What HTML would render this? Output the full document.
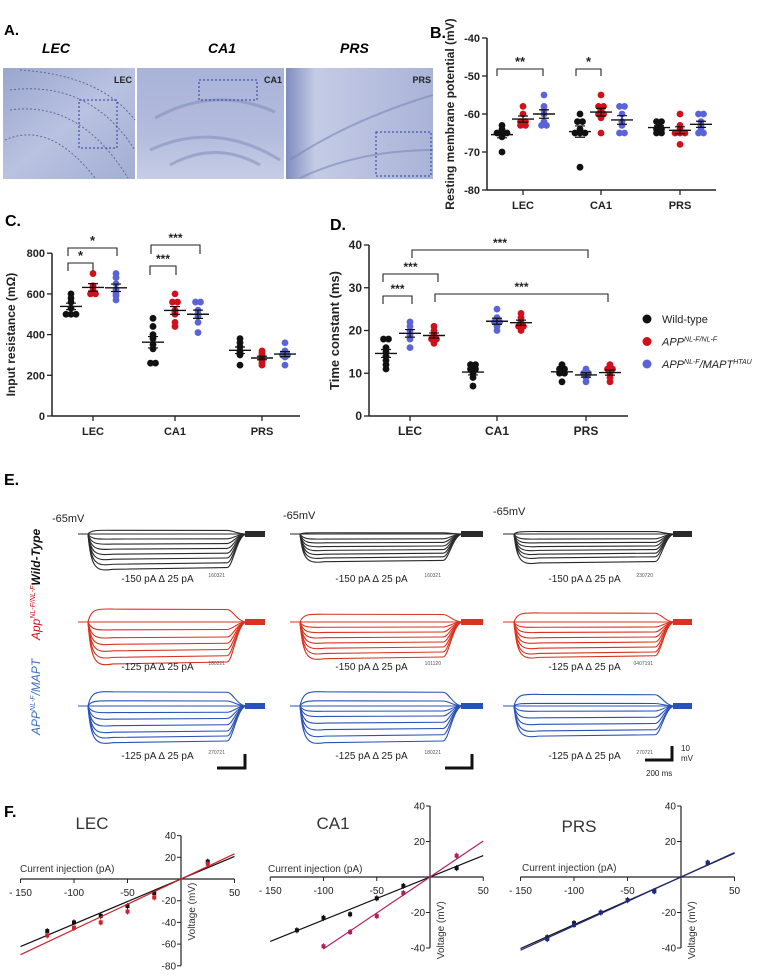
<!DOCTYPE html>
<html><head><meta charset="utf-8"><style>
html,body{margin:0;padding:0;background:#fff;}
svg{display:block;font-family:"Liberation Sans",Arial,sans-serif;}
</style></head><body>
<svg id="fig" width="759" height="979" viewBox="0 0 759 979">
<defs>
<linearGradient id="hg1" x1="0" y1="0" x2="1" y2="1"><stop offset="0" stop-color="#9aa6cf"/><stop offset="0.5" stop-color="#b9c2e0"/><stop offset="1" stop-color="#a3aed4"/></linearGradient>
<linearGradient id="hg2" x1="0" y1="0" x2="0" y2="1"><stop offset="0" stop-color="#a9b3d8"/><stop offset="0.6" stop-color="#b3bcdd"/><stop offset="1" stop-color="#c6cde6"/></linearGradient>
<linearGradient id="hg3" x1="0" y1="0" x2="1" y2="0"><stop offset="0" stop-color="#7f8dbf"/><stop offset="0.2" stop-color="#c4cbe5"/><stop offset="1" stop-color="#aab4d8"/></linearGradient>
</defs>
<g>
<text x="4" y="35" font-size="15" font-weight="bold">A.</text>
<text x="42" y="53" font-size="14" font-weight="bold" font-style="italic">LEC</text>
<text x="208" y="53" font-size="14" font-weight="bold" font-style="italic">CA1</text>
<text x="340" y="53" font-size="14" font-weight="bold" font-style="italic">PRS</text>
<g>
<rect x="3" y="68" width="132" height="111" fill="url(#hg1)"/>
<path d="M10 90 Q90 80 135 150 M10 110 Q80 100 128 178 M20 70 Q100 75 135 120 M5 140 Q50 120 95 178" stroke="#5d6aa0" stroke-width="1" fill="none" stroke-dasharray="2 2"/>
<rect x="79" y="100" width="38" height="48" fill="none" stroke="#2a3aa8" stroke-dasharray="2 2"/>
<text x="132" y="83" font-size="9" font-weight="bold" text-anchor="end" fill="#222">LEC</text>
</g>
<g>
<rect x="137" y="68" width="147" height="111" fill="url(#hg2)"/>
<path d="M155 118 Q215 85 275 112 M150 150 Q215 120 280 160 M170 165 Q215 140 260 165" stroke="#7b87b8" stroke-width="3" fill="none" opacity="0.5"/>
<rect x="199" y="80" width="58" height="20" fill="none" stroke="#2a3aa8" stroke-dasharray="2 2"/>
<text x="282" y="83" font-size="9" font-weight="bold" text-anchor="end" fill="#222">CA1</text>
</g>
<g>
<rect x="286" y="68" width="147" height="111" fill="url(#hg3)"/>
<path d="M290 160 Q350 120 433 95 M300 178 Q360 150 433 150" stroke="#7b87b8" stroke-width="2" fill="none" opacity="0.6"/>
<rect x="376" y="132" width="55" height="44" fill="none" stroke="#2a3aa8" stroke-dasharray="2 2"/>
<text x="431" y="83" font-size="9" font-weight="bold" text-anchor="end" fill="#222">PRS</text>
</g>
</g>
<g id="gB"></g>
<g id="gC"></g>
<g id="gD"></g>
<g id="gE"></g>
<g id="gF"></g>
</svg>
<script>
const NS="http://www.w3.org/2000/svg";
const BLK="#111",RED="#d0101a",BLU="#5b63d8";
const bCategories=["LEC","CA1","PRS"];
const bWT=[[-63,-64,-65,-65,-65,-66,-70],[-60,-62,-62,-64,-65,-65,-65,-74],[-62,-62,-63,-64,-64,-65,-65]];
const bAPP=[[-58,-60,-62,-62,-63,-63],[-55,-58,-58,-59,-60,-60,-61,-65],[-60,-63,-64,-65,-65,-65,-68]];
const bTAU=[[-55,-58,-59,-60,-62,-63,-63],[-58,-58,-60,-62,-63,-65,-65],[-60,-60,-62,-63,-64,-65,-65]];
const bTicks=[-40,-50,-60,-70,-80];
const cCategories=["LEC","CA1","PRS"];
const cWT=[[500,500,500,530,560,580,600],[260,260,330,350,380,400,440,480],[250,300,310,320,340,360,380]];
const cAPP=[[600,600,620,640,700],[440,460,500,510,520,560,560,600],[250,260,270,280,290,300,310,320]];
const cTAU=[[570,590,600,620,650,680,700],[410,460,490,500,520,560,560],[250,290,300,300,310,320,360]];
const cTicks=[0,200,400,600,800];
const dCategories=["LEC","CA1","PRS"];
const dWT=[[11,12,13,14,15,16,18,18],[7,9,10,11,11,12,12],[8,10,10,11,11,12]];
const dTAU=[[16,18,19,20,21,22],[20,21,22,22,23,25],[8,9,10,10,11]];
const dAPP=[[17,18,18,19,20,21],[20,21,21,22,23,24],[8,9,10,11,11,12]];
const dTicks=[0,10,20,30,40];
const fCurrents=[-125,-100,-75,-50,-25,25];
const fLecWT=[-48,-40,-34,-25,-13,16];
const fLecAPP=[-52,-45,-40,-30,-17,14];
const fCa1WT=[-30,-23,-21,-12,-5,5];
const fCa1APP=[null,-39,-31,-22,-9,12];
const fPrsWT=[-34,-26,-20,-13,-8,8];
const fPrsAPP=[-35,-27,-20,-13,-8,8];
const fXTicks=[-150,-100,-50,0,50];
const eWT=[[3,0,-4,-8,-12,-16,-20,-24,-28],[1,0,-4,-7,-10,-13,-16,-19,-22],[2,0,-4,-7,-10,-13,-16,-19,-23]];
const eAPP=[[10,0,-6,-12,-17,-22,-27,-32],[6,0,-4,-8,-12,-16,-20,-24,-28],[7,0,-4,-8,-12,-16,-20,-24,-27]];
const eTAU=[[11,4,0,-5,-10,-15,-20,-24,-28],[11,4,0,-4,-8,-13,-18,-23,-28],[9,2,0,-4,-9,-14,-19,-23]];

function el(tag,attrs,parent,text){const e=document.createElementNS(NS,tag);for(const k in attrs)e.setAttribute(k,attrs[k]);if(text!==undefined)e.textContent=text;parent.appendChild(e);return e;}
function mean(a){return a.reduce((s,v)=>s+v,0)/a.length;}
function sem(a){const m=mean(a);return Math.sqrt(a.reduce((s,v)=>s+(v-m)*(v-m),0)/(a.length-1))/Math.sqrt(a.length);}

function scatterGroup(g,cx,vals,y,color,name){
  const counts={};
  vals.forEach(v=>{counts[v]=(counts[v]||0)+1;});
  const seen={};
  vals.forEach(v=>{
    const n=counts[v];seen[v]=(seen[v]||0);const i=seen[v]++;
    const off=(i-(n-1)/2)*5;
    const c=el("circle",{cx:cx+off,cy:y(v),r:3.4,fill:color},g);
    
    
  });
  const m=mean(vals),s=sem(vals);
  const mb=el("line",{x1:cx-11,x2:cx+11,y1:y(m),y2:y(m),stroke:"#111","stroke-width":1.4},g);
  
  
  el("path",{d:`M${cx} ${y(m-s)}V${y(m+s)}M${cx-5} ${y(m-s)}H${cx+5}M${cx-5} ${y(m+s)}H${cx+5}`,stroke:"#111","stroke-width":1.2,fill:"none"},g);
}
function bracket(g,x1,x2,top,drop,label,fs){
  el("path",{d:`M${x1} ${top+drop}V${top}H${x2}V${top+drop}`,stroke:"#222","stroke-width":1.1,fill:"none"},g);
  const t=el("text",{x:(x1+x2)/2,y:top-3,"font-size":fs||13,"font-weight":"bold","text-anchor":"middle",fill:"#222"},g,label);
  
  
}
function yAxis(g,x,ticks,y,fs,ylabel,lx){
  el("line",{x1:x,x2:x,y1:y(ticks[0]),y2:y(ticks[ticks.length-1]),stroke:"#222","stroke-width":1.5},g);
  ticks.forEach(t=>{
    el("line",{x1:x-5,x2:x,y1:y(t),y2:y(t),stroke:"#222","stroke-width":1.3},g);
    const tx=el("text",{x:x-7,y:y(t)+4,"font-size":fs,"font-weight":"bold","text-anchor":"end",fill:"#222"},g,t);
    
    
  });
  const mid=(y(ticks[0])+y(ticks[ticks.length-1]))/2;
  const yl=el("text",{x:lx,y:mid,"font-size":fs+1,"font-weight":"bold","text-anchor":"middle",fill:"#222",transform:`rotate(-90 ${lx} ${mid})`},g,ylabel);
  
  
}
function xAxis(g,x0,x1,yy,cats,pos,fs){
  el("line",{x1:x0,x2:x1,y1:yy,y2:yy,stroke:"#222","stroke-width":1.5},g);
  cats.forEach((c,i)=>{
    el("line",{x1:pos[i],x2:pos[i],y1:yy,y2:yy+5,stroke:"#222","stroke-width":1.3},g);
    const t=el("text",{x:pos[i],y:yy+19,"font-size":fs,"font-weight":"bold","text-anchor":"middle",fill:"#222"},g,c);
    
    
  });
}

(function(){
  const g=document.getElementById("gB");
  const y=v=>38+(-40-v)*3.8;
  el("text",{x:430,y:38,"font-size":16,"font-weight":"bold"},g,"B.");
  yAxis(g,487,bTicks,y,11,"Resting membrane potential (mV)",454);
  const pos=[523,601,680];
  xAxis(g,487,716,190,bCategories,pos,11);
  pos.forEach((p,i)=>{
    scatterGroup(g,p-21,bWT[i],y,BLK,"b-wildtype-"+bCategories[i]);
    scatterGroup(g,p,bAPP[i],y,RED,"b-app-"+bCategories[i]);
    scatterGroup(g,p+21,bTAU[i],y,BLU,"b-apptau-"+bCategories[i]);
  });
  bracket(g,497,543,69,7,"**",13);
  bracket(g,576,601,69,7,"*",13);
})();

(function(){
  const g=document.getElementById("gC");
  const y=v=>416-v*0.2035;
  el("text",{x:5,y:226,"font-size":16,"font-weight":"bold"},g,"C.");
  yAxis(g,52,cTicks,y,11,"Input resistance (mΩ)",15);
  const pos=[93,175,262];
  xAxis(g,52,300,416,cCategories,pos,11);
  pos.forEach((p,i)=>{
    scatterGroup(g,p-22,cWT[i],y,BLK,"c-wildtype-"+cCategories[i]);
    scatterGroup(g,p,cAPP[i],y,RED,"c-app-"+cCategories[i]);
    scatterGroup(g,p+23,cTAU[i],y,BLU,"c-apptau-"+cCategories[i]);
  });
  bracket(g,68,93,263,8,"*",13);
  bracket(g,68,117,248,8,"*",13);
  bracket(g,150,176,266,9,"***",12);
  bracket(g,151,200,245,9,"***",12);
})();

(function(){
  const g=document.getElementById("gD");
  const y=v=>416-v*4.275;
  el("text",{x:330,y:230,"font-size":16,"font-weight":"bold"},g,"D.");
  yAxis(g,369,dTicks,y,12,"Time constant (ms)",339);
  const pos=[410,497,586];
  xAxis(g,369,628,416,dCategories,pos,12);
  pos.forEach((p,i)=>{
    scatterGroup(g,p-24,dWT[i],y,BLK,"d-wildtype-"+dCategories[i]);
    scatterGroup(g,p,dTAU[i],y,BLU,"d-apptau-"+dCategories[i]);
    scatterGroup(g,p+24,dAPP[i],y,RED,"d-app-"+dCategories[i]);
  });
  bracket(g,383,412,296,8,"***",12);
  bracket(g,383,438,274,8,"***",12);
  bracket(g,412,588,250,8,"***",12);
  bracket(g,435,608,294,8,"***",12);
  const leg=[["Wild-type",BLK],["APP",RED],["APP",BLU]];
  const sups=["","NL-F/NL-F","NL-F"];
  leg.forEach((l,i)=>{
    const yy=319+i*22.5;
    const c=el("circle",{cx:647,cy:yy,r:4.5,fill:l[1]},g);
    
    
    const t=el("text",{x:662,y:yy+4,"font-size":11,fill:"#222","font-style":i?"italic":"normal"},g);
    
    
    t.appendChild(document.createTextNode(l[0]));
    if(i){el("tspan",{"font-size":7,dy:-4},t,sups[i]);
      if(i===2){el("tspan",{"font-size":11,dy:4},t,"/MAPT");el("tspan",{"font-size":7,dy:-4},t,"HTAU");}}
  });
})();

(function(){
  const g=document.getElementById("gE");
  el("text",{x:4,y:485,"font-size":16,"font-weight":"bold"},g,"E.");
  const cols=[{x0:78,s:88,e:227,x1:265},{x0:290,s:300,e:443,x1:483},{x0:503,s:514,e:655,x1:692}];
  const rows=[{b:534,c:"#2a2a2a",d:eWT,sc:1.2,lab:["-150 pA ∆ 25 pA","-150 pA ∆ 25 pA","-150 pA ∆ 25 pA"],ids:["160321","160321","230720"],ly:582},
              {b:622,c:"#d9321f",d:eAPP,sc:1.25,lab:["-125 pA ∆ 25 pA","-150 pA ∆ 25 pA","-125 pA ∆ 25 pA"],ids:["180221","101120","0407191"],ly:670},
              {b:706,c:"#2852b8",d:eTAU,sc:1.25,lab:["-125 pA ∆ 25 pA","-125 pA ∆ 25 pA","-125 pA ∆ 25 pA"],ids:["270721","180221","270721"],ly:759}];
  rows.forEach((r,ri)=>{
    cols.forEach((c,ci)=>{
      const tr=el("g",{},g);
      
      
      r.d[ci].forEach(v=>{
        const yy=r.b-v*r.sc;
        const sag=v<0?-v*0.15:-v*0.1;
        const d=`M${c.x0} ${r.b}H${c.s}C${c.s+3} ${yy+sag*0.3} ${c.s+8} ${yy+sag} ${c.s+25} ${yy+sag*0.4}L${c.e} ${yy}C${c.e+6} ${yy} ${c.e+10} ${r.b} ${c.e+20} ${r.b}H${c.x1}`;
        el("path",{d:d,stroke:r.c,"stroke-width":1.1,fill:"none"},tr);
      });
      el("rect",{x:c.e+18,y:r.b-3,width:c.x1-c.e-18,height:6,fill:r.c},tr);
      const t=el("text",{x:(c.s+c.e)/2,y:r.ly,"font-size":10,"text-anchor":"middle",fill:"#222"},g,r.lab[ci]);
      
      
      el("text",{x:c.e-2,y:r.ly-5,"font-size":5,"text-anchor":"end",fill:"#555"},g,r.ids[ci]);
    });
  });
  [[52,522],[283,519],[493,515]].forEach(p=>{const t=el("text",{x:p[0],y:p[1],"font-size":11,fill:"#222"},g,"-65mV");
    });
  const l1=el("text",{x:0,y:0,"font-size":12,"font-style":"italic",transform:"translate(40 640) rotate(-90)"},g);
  
  el("tspan",{fill:RED},l1,"App");el("tspan",{fill:RED,"font-size":7,dy:-5},l1,"NL-F/NL-F");
  el("tspan",{fill:"#111","font-weight":"bold",dy:5},l1,"Wild-Type");
  const l2=el("text",{x:0,y:0,"font-size":12,"font-style":"italic",fill:"#3c6bc0",transform:"translate(40 735) rotate(-90)"},g);
  
  el("tspan",{},l2,"APP");el("tspan",{"font-size":7,dy:-5},l2,"NL-F");el("tspan",{dy:5},l2,"/MAPT");
  [[217,245,768],[445,472,768],[645,672,760]].forEach(s=>{
    const p=el("path",{d:`M${s[0]} ${s[2]}H${s[1]}V${s[2]-14}`,stroke:"#111","stroke-width":3,fill:"none"},g);
    
  });
  el("text",{x:681,y:751,"font-size":8,fill:"#222"},g,"10");
  el("text",{x:681,y:761,"font-size":8,fill:"#222"},g,"mV");
  el("text",{x:646,y:776,"font-size":8,fill:"#222"},g,"200 ms");
})();

function ivPlot(g,name,kx,x0px,y0,ky,yTicks,title,tx,ty,wt,app,clx,cly,appColor,appStart){
  const X=v=>x0px+v*kx, Y=v=>y0-v*ky;
  const pg=el("g",{},g);
  
  
  el("line",{x1:X(-150),x2:X(50),y1:y0,y2:y0,stroke:"#222","stroke-width":1.2},pg);
  fXTicks.forEach(t=>{
    el("line",{x1:X(t),x2:X(t),y1:y0,y2:y0+4,stroke:"#222"},pg);
    if(t!==0){const tt=el("text",{x:X(t),y:y0+17,"font-size":10,"text-anchor":"middle",fill:"#222"},pg,t===-150?"- 150":t);
      }
  });
  el("line",{x1:X(0),x2:X(0),y1:Y(yTicks[0]),y2:Y(yTicks[yTicks.length-1]),stroke:"#222","stroke-width":1.2},pg);
  yTicks.forEach(t=>{
    if(t===0)return;
    el("line",{x1:X(0)-4,x2:X(0),y1:Y(t),y2:Y(t),stroke:"#222"},pg);
    el("text",{x:X(0)-5,y:Y(t)+3.5,"font-size":10,"text-anchor":"end",fill:"#222"},pg,t);
  });
  const vl=el("text",{x:0,y:0,"font-size":10,"text-anchor":"middle",fill:"#333",transform:`translate(${X(0)+14} ${Y(-30)}) rotate(-90)`},pg,"Voltage (mV)");
  
  const cl=el("text",{x:clx,y:cly,"font-size":10,fill:"#333"},pg,"Current injection (pA)");
  
  const tl=el("text",{x:tx,y:ty,"font-size":17,"text-anchor":"middle",fill:"#333"},pg,title);
  
  [[wt,"#111",-150],[app,appColor,appStart]].forEach(([arr,col,st],si)=>{
    let sx=0,sy=0;
    arr.forEach((v,i)=>{if(v===null)return;sx+=fCurrents[i]*v;sy+=fCurrents[i]*fCurrents[i];
      const p=el("rect",{x:X(fCurrents[i])-2,y:Y(v)-2,width:4,height:4,fill:col},pg);
      
      el("path",{d:`M${X(fCurrents[i])} ${Y(v)-3}v6`,stroke:col},pg);
    });
    const slope=sx/sy;
    const ln=el("line",{x1:X(st),y1:Y(st*slope),x2:X(50),y2:Y(50*slope),stroke:col,"stroke-width":1.2},pg);
    
  });
}
(function(){
  const g=document.getElementById("gF");
  el("text",{x:4,y:817,"font-size":16,"font-weight":"bold"},g,"F.");
  ivPlot(g,"iv-lec",1.07,181,879,1.085,[40,20,0,-20,-40,-60,-80],"LEC",92,829,fLecWT,fLecAPP,20,872,"#d0202a",-150);
  ivPlot(g,"iv-ca1",1.065,430,877,1.775,[40,20,0,-20,-40],"CA1",333,829,fCa1WT,fCa1APP,268,872,"#b02060",-100);
  ivPlot(g,"iv-prs",1.07,681,877,1.775,[40,20,0,-20,-40],"PRS",579,832,fPrsWT,fPrsAPP,522,871,"#1e2a80",-150);
})();
</script>
</body></html>
